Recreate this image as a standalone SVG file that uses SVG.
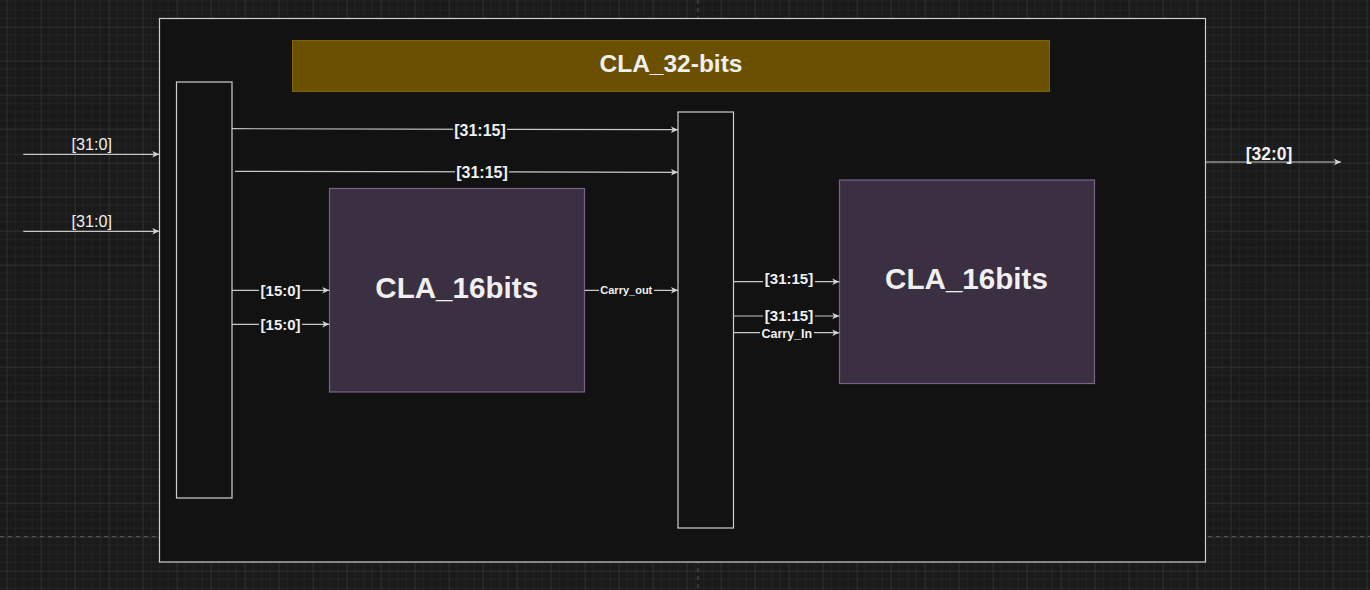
<svg xmlns="http://www.w3.org/2000/svg" width="1370" height="590" viewBox="0 0 1370 590">
<defs>
<pattern id="grid" patternUnits="userSpaceOnUse" x="6.7" y="26.7" width="34" height="34">
<rect width="34" height="34" fill="#1a1a1a"/>
<path d="M8.5,0V34M17,0V34M25.5,0V34M0,8.5H34M0,17H34M0,25.5H34" stroke="#242424" stroke-width="1" fill="none"/>
<path d="M0.5,0V34M0,0.5H34" stroke="#303030" stroke-width="1" fill="none"/>
</pattern>
<marker id="arr" markerUnits="userSpaceOnUse" markerWidth="10" markerHeight="10" refX="7" refY="4" orient="auto">
<path d="M0,0.8 L7,4 L0,7.2 L1.8,4 Z" fill="#d4d4d4"/>
</marker>
<style>
.wire{stroke:#c8c8c8;stroke-width:1.2;fill:none;marker-end:url(#arr)}
.blk{fill:#121212;stroke:#cfcfcf;stroke-width:1.2}
.cla{fill:#3b2f42;stroke:#7b6189;stroke-width:1.2}
.lbl{font-family:"Liberation Sans",Arial,sans-serif;fill:#f0f0f0;text-anchor:middle}
.bg{fill:#121212}
</style>
</defs>
<rect width="1370" height="590" fill="url(#grid)"/>
<path d="M698,0V590M0,536.5H1370" stroke="#555555" stroke-width="1" stroke-dasharray="4,4" fill="none"/>

<g id="container">
<rect x="159.5" y="18.5" width="1046" height="543.5" class="blk" stroke="#d6d6d6"/>
</g>
<g id="title">
<rect x="292.5" y="40.5" width="757" height="51" fill="#6a5000" stroke="#7e6508" stroke-width="1"/>
<text x="671" y="72" class="lbl" font-size="24.5" font-weight="bold">CLA_32-bits</text>
</g>
<g id="split-left">
<rect x="176.5" y="82" width="55.5" height="416" class="blk"/>
</g>
<g id="merge-mid">
<rect x="678" y="112" width="55.5" height="416" class="blk"/>
</g>
<g id="cla16-low">
<rect x="329.5" y="188.5" width="255" height="203.5" class="cla"/>
<text x="456.7" y="297.5" class="lbl" font-size="29.6" font-weight="bold">CLA_16bits</text>
</g>
<g id="cla16-high">
<rect x="839.5" y="180" width="255" height="203.5" class="cla"/>
<text x="966.5" y="289.2" class="lbl" font-size="29.6" font-weight="bold">CLA_16bits</text>
</g>

<g id="connectors">
<line x1="23.3" y1="154.3" x2="159.3" y2="154.3" class="wire"/>
<line x1="23.3" y1="231.3" x2="159.3" y2="231.3" class="wire"/>
<line x1="232" y1="128.7" x2="678" y2="129.7" class="wire"/>
<line x1="235" y1="171.3" x2="678" y2="172.3" class="wire"/>
<line x1="232" y1="290.3" x2="329.3" y2="290.3" class="wire"/>
<line x1="232" y1="324.3" x2="329.3" y2="324.3" class="wire"/>
<line x1="584.7" y1="290.3" x2="678" y2="290.3" class="wire"/>
<line x1="733.7" y1="281.7" x2="839.3" y2="281.7" class="wire"/>
<line x1="733.7" y1="316" x2="839.3" y2="316" class="wire"/>
<line x1="733.7" y1="332.7" x2="839.3" y2="332.7" class="wire"/>
<line x1="1205.5" y1="162" x2="1341" y2="162" class="wire"/>

<g id="labels">
<text x="91.7" y="150" class="lbl" font-size="16.2">[31:0]</text>
<text x="91.7" y="227" class="lbl" font-size="16.2">[31:0]</text>
<rect x="453" y="121" width="54" height="16" class="bg"/>
<text x="480" y="135.5" class="lbl" font-size="16" font-weight="bold">[31:15]</text>
<rect x="455" y="164" width="54" height="16" class="bg"/>
<text x="482" y="178" class="lbl" font-size="16" font-weight="bold">[31:15]</text>
<rect x="259" y="282" width="43" height="16" class="bg"/>
<text x="280.6" y="296" class="lbl" font-size="15" font-weight="bold">[15:0]</text>
<rect x="259" y="316" width="43" height="16" class="bg"/>
<text x="280.6" y="330" class="lbl" font-size="15" font-weight="bold">[15:0]</text>
<rect x="599" y="284" width="55" height="12" class="bg"/>
<text x="626.3" y="294.3" class="lbl" font-size="11" font-weight="bold">Carry_out</text>
<rect x="763" y="272" width="52" height="16" class="bg"/>
<text x="789" y="283.8" class="lbl" font-size="15" font-weight="bold">[31:15]</text>
<rect x="763" y="308" width="52" height="16" class="bg"/>
<text x="789" y="321" class="lbl" font-size="15" font-weight="bold">[31:15]</text>
<rect x="760" y="326" width="54" height="14" class="bg"/>
<text x="786.8" y="337.5" class="lbl" font-size="12.5" font-weight="bold">Carry_In</text>
<text x="1269" y="159.5" class="lbl" font-size="17.5" font-weight="bold">[32:0]</text>
</g>
</g>
</svg>
